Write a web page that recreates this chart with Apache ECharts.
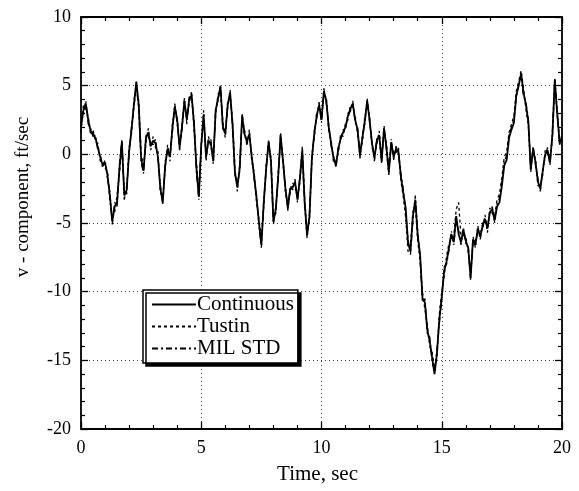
<!DOCTYPE html>
<html lang="en">
<head>
    <meta charset="utf-8"/>
    <script src="https://cdn.jsdelivr.net/npm/echarts@6/dist/echarts.min.js"></script>
    <style>
        html, body { margin: 0; padding: 0; background: #fff; }
        #main { width: 579px; height: 491px; }
    </style>
</head>
<body>
<div id="main"></div>
<script>
    // samples every 0.1 sec, t = 0 .. 20
    var step = 0.1;
    var continuous = [
        2.0, 3.2, 3.7, 2.5, 1.7, 1.5, 1.2, 0.5, -0.2, -0.8,
        -0.6, -1.5, -3.0, -4.9, -3.8, -3.5, -1.0, 0.9, -3.0, -2.6,
        0.2, 1.8, 3.6, 5.3, 3.6, -0.3, -1.2, 1.2, 1.6, 0.6,
        1.0, 0.8, -0.2, -2.5, -3.5, -0.8, 0.4, -0.2, 1.9, 3.5,
        2.5, 0.5, 2.0, 3.9, 2.5, 4.0, 4.3, 2.2, -1.0, -3.1,
        0.7, 2.9, -0.2, 1.0, 0.8, -0.5, 3.2, 4.1, 4.9, 2.0,
        1.5, 3.6, 4.5, 2.2, -1.3, -2.4, -1.0, 2.8, 1.5, 0.9,
        1.5, -0.2, -1.6, -3.2, -5.0, -6.6, -3.5, -1.0, 0.9, -0.5,
        -4.9, -4.0, -1.6, 1.4, -0.5, -2.5, -3.9, -2.5, -2.4, -2.0,
        -3.3, -1.8, 0.3, -3.5, -5.9, -4.5, -0.3, 1.5, 2.8, 3.6,
        2.5, 4.6, 3.9, 2.0, 0.8, -0.3, -0.8, 0.4, 1.2, 1.6,
        2.0, 2.8, 3.3, 3.7, 2.5, 1.8, -0.1, 1.2, 2.4, 3.9,
        2.5, 0.8, -0.3, 1.0, 1.4, -0.5, 1.9, 0.5, -1.3, 0.9,
        -0.2, 0.4, 0.2, -1.6, -2.8, -3.9, -6.5, -7.0, -4.5, -3.3,
        -5.9, -7.3, -10.5, -10.8, -12.8, -13.6, -14.8, -16.0, -14.5, -12.0,
        -10.4, -8.5, -7.8, -6.8, -5.8, -6.4, -4.5, -5.8, -6.4, -5.5,
        -6.3, -6.8, -9.0, -6.2, -6.6, -5.4, -6.0, -5.2, -4.7, -5.4,
        -4.2, -4.0, -4.8, -3.8, -3.5, -2.3, -0.8, -0.4, 1.2, 1.8,
        2.3, 4.3, 5.0, 5.9, 4.5, 3.6, 2.4, -1.1, 0.4, -0.6,
        -2.0, -2.5, -1.2, 0.0, 0.3, -0.6, 1.4, 5.4, 3.0, 0.9,
        1.2
    ];
    var tustin = [
        1.6, 3.6, 3.2, 2.8, 1.4, 1.8, 0.9, 0.8, -0.5, -0.5,
        -1.0, -1.2, -3.4, -4.5, -4.2, -3.0, -1.4, 0.6, -2.6, -2.9,
        0.5, 1.5, 3.9, 4.9, 3.9, 0.1, -1.0, 0.8, 1.9, 0.3,
        1.3, 0.5, 0.2, -2.8, -3.1, -1.1, 0.7, -0.5, 2.2, 3.2,
        2.8, 0.2, 2.3, 3.6, 2.8, 3.7, 4.6, 1.8, -0.6, -2.8,
        0.4, 3.2, -0.5, 1.3, 0.5, -0.2, 2.9, 4.4, 4.6, 2.3,
        1.2, 3.9, 4.2, 2.5, -1.0, -2.7, -0.7, 2.5, 1.8, 0.6,
        1.8, -0.5, -1.3, -3.5, -4.7, -6.2, -3.8, -0.7, 0.6, -0.2,
        -4.6, -4.3, -1.3, 1.1, -0.2, -2.8, -3.6, -2.8, -2.1, -2.3,
        -3.0, -2.1, 0.6, -3.2, -5.6, -4.8, 0.0, 1.2, 3.1, 3.3,
        2.8, 4.3, 4.2, 1.7, 1.1, -0.6, -0.5, 0.1, 1.5, 1.3,
        2.3, 2.5, 3.6, 3.4, 2.8, 1.5, 0.2, 0.9, 2.7, 3.6,
        2.8, 0.5, 0.0, 0.7, 1.7, -0.2, 1.6, 0.8, -1.0, 0.6,
        0.1, 0.1, 0.5, -1.9, -3.1, -4.6, -7.1, -6.6, -4.2, -3.7,
        -6.3, -7.7, -10.1, -11.3, -12.4, -14.0, -14.4, -15.6, -14.8, -11.6,
        -10.0, -8.9, -7.4, -6.5, -6.1, -6.0, -4.0, -3.5, -6.0, -5.9,
        -6.0, -7.1, -8.6, -6.5, -6.2, -5.7, -5.6, -5.5, -4.4, -5.7,
        -3.9, -4.3, -4.5, -3.3, -2.9, -1.7, -0.2, 0.2, 1.6, 2.2,
        2.8, 4.6, 5.3, 6.1, 4.8, 3.3, 2.1, -0.8, 0.1, -0.3,
        -2.3, -2.2, -1.5, 0.3, 0.0, -0.3, 1.1, 5.1, 3.3, 0.6,
        1.5
    ];
    var milStd = [
        2.3, 2.9, 3.9, 2.2, 1.9, 1.3, 1.4, 0.3, 0.0, -1.0,
        -0.4, -1.8, -2.7, -5.1, -3.5, -3.8, -0.7, 1.1, -3.3, -2.3,
        0.0, 2.0, 3.4, 5.0, 3.3, -0.6, -1.4, 1.4, 1.3, 0.8,
        0.7, 1.1, -0.4, -2.2, -3.7, -0.5, 0.2, 0.1, 1.6, 3.7,
        2.2, 0.7, 1.8, 4.1, 2.2, 4.2, 4.0, 2.5, -1.3, -3.3,
        0.9, 2.6, 0.1, 0.8, 1.1, -0.7, 3.4, 3.9, 5.1, 1.7,
        1.7, 3.4, 4.7, 2.0, -1.5, -2.2, -1.2, 3.0, 1.3, 1.1,
        1.3, 0.0, -1.8, -3.0, -5.2, -6.8, -3.3, -1.2, 1.1, -0.7,
        -5.1, -3.8, -1.8, 1.6, -0.7, -2.3, -4.1, -2.3, -2.6, -1.8,
        -3.5, -1.6, 0.1, -3.7, -6.1, -4.3, -0.5, 1.7, 2.6, 3.8,
        2.3, 4.8, 3.7, 2.2, 0.6, -0.1, -1.0, 0.6, 1.0, 1.8,
        1.8, 3.0, 3.1, 3.9, 2.3, 2.0, -0.3, 1.4, 2.2, 4.1,
        2.3, 1.0, -0.5, 1.2, 1.2, -0.7, 2.1, 0.3, -1.5, 1.1,
        -0.4, 0.6, 0.0, -1.4, -2.5, -4.2, -6.2, -7.3, -4.8, -3.0,
        -5.6, -7.6, -10.8, -10.5, -13.1, -13.3, -15.1, -15.8, -14.2, -12.3,
        -10.7, -8.2, -8.0, -7.0, -5.6, -6.6, -4.8, -5.5, -6.6, -5.3,
        -6.5, -6.6, -9.2, -6.0, -6.8, -5.2, -6.2, -5.0, -4.9, -5.2,
        -4.4, -3.8, -5.0, -3.6, -3.2, -2.0, -0.5, -0.1, 1.4, 2.0,
        2.5, 4.1, 5.2, 5.7, 4.2, 3.8, 2.6, -1.3, 0.6, -0.8,
        -1.8, -2.7, -1.0, -0.2, 0.5, -0.8, 1.6, 5.6, 2.8, 1.1,
        1.0
    ];
    var seriesNames = ['Continuous', 'Tustin', 'MIL STD'];

    function pairs(arr) {
        return arr.map(function (v, i) { return [+(i * step).toFixed(1), v]; });
    }

    var serif = '"Liberation Serif", "DejaVu Serif", serif';
    var chart = echarts.init(document.getElementById('main'));

    var tickCommon = {
        axisLine: { show: true, onZero: false, lineStyle: { color: '#000', width: 1.8 } },
        axisTick: { show: true, inside: true, length: 7, lineStyle: { color: '#000', width: 1.3 } },
        minorTick: { show: true, splitNumber: 5, length: 4, lineStyle: { color: '#000', width: 1.2 } }
    };

    var option = {
        animation: false,
        backgroundColor: '#fff',
        grid: { left: 81, right: 17, top: 17, bottom: 62 },
        // y title sits a little above the grid middle in the original
        graphic: [{
            type: 'text',
            x: 23, y: 197,
            rotation: Math.PI / 2,
            style: {
                text: 'v - component, ft/sec',
                font: '19px ' + serif,
                fill: '#000',
                align: 'center',
                verticalAlign: 'middle'
            }
        }],
        legend: {
            data: seriesNames,
            orient: 'vertical',
            left: 143,
            top: 290,
            itemWidth: 44,
            itemHeight: 12,
            itemGap: 1,
            padding: [4, 4, 4, 8],
            backgroundColor: '#fff',
            borderColor: '#000',
            borderWidth: 1.5,
            borderRadius: 0,
            shadowColor: '#000',
            shadowBlur: 0,
            shadowOffsetX: 3,
            shadowOffsetY: 3,
            itemStyle: { color: 'transparent', borderWidth: 0 },
            textStyle: { fontFamily: serif, fontSize: 21, lineHeight: 20, color: '#000', padding: [0, 0, 0, -4] }
        },
        xAxis: [
            Object.assign({
                type: 'value', min: 0, max: 20, interval: 5,
                name: 'Time, sec', nameLocation: 'middle', nameGap: 35,
                nameTextStyle: { fontFamily: serif, fontSize: 21, color: '#000', padding: [0, 8, 0, 0] },
                axisLabel: { fontFamily: serif, fontSize: 18, color: '#000', margin: 10 },
                splitLine: { show: true, lineStyle: { type: [1, 3], color: '#444', width: 1 } }
            }, tickCommon),
            Object.assign({
                type: 'value', min: 0, max: 20, interval: 5, position: 'top',
                axisLabel: { show: false }, splitLine: { show: false }
            }, tickCommon)
        ],
        yAxis: [
            Object.assign({
                type: 'value', min: -20, max: 10, interval: 5,
                axisLabel: { fontFamily: serif, fontSize: 18, color: '#000', margin: 10,
                    formatter: function (v) { return v < 0 ? '-' + Math.abs(v) : String(v); } },
                splitLine: { show: true, lineStyle: { type: [1, 3], color: '#444', width: 1 } }
            }, tickCommon),
            Object.assign({
                type: 'value', min: -20, max: 10, interval: 5, position: 'right',
                axisLabel: { show: false }, splitLine: { show: false }
            }, tickCommon)
        ],
        series: [
            {
                name: 'Continuous', type: 'line', data: pairs(continuous),
                symbol: 'none', z: 5,
                lineStyle: { color: '#000', width: 1.8, type: 'solid' },
                itemStyle: { color: '#000' }
            },
            {
                name: 'Tustin', type: 'line', data: pairs(tustin),
                symbol: 'none', z: 4,
                lineStyle: { color: '#000', width: 1.3, type: [3, 3] },
                itemStyle: { color: '#000' }
            },
            {
                name: 'MIL STD', type: 'line', data: pairs(milStd),
                symbol: 'none', z: 4,
                lineStyle: { color: '#000', width: 1.3, type: [6, 3, 2, 3] },
                itemStyle: { color: '#000' }
            }
        ]
    };
    chart.setOption(option);
</script>
</body>
</html>
